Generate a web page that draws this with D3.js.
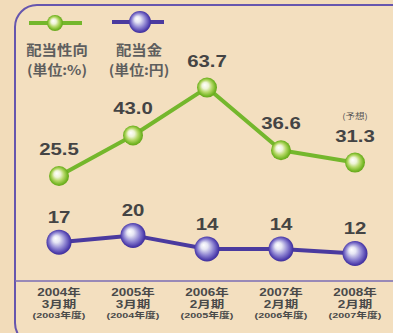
<!DOCTYPE html>
<html>
<head>
<meta charset="utf-8">
<script src="https://cdn.jsdelivr.net/npm/d3@7"></script>
<style>
  html, body { margin: 0; padding: 0; background: #f2dcba; }
  svg { display: block; }
</style>
</head>
<body>
<svg id="chart" width="393" height="333"></svg>
<script>
// Fiscal periods
const categories = ["2004-03", "2005-03", "2006-02", "2007-02", "2008-02"];
const yearLabels = ["2004年", "2005年", "2006年", "2007年", "2008年"];
const periodLabels = ["3月期", "3月期", "2月期", "2月期", "2月期"];
const fiscalLabels = ["(2003年度)", "(2004年度)", "(2005年度)", "(2006年度)", "(2007年度)"];

// Payout ratio (%) and dividend per share (yen)
const payoutRatio = [25.5, 43.0, 63.7, 36.6, 31.3];
const dividend = [17, 20, 14, 14, 12];
const payoutNotes = ["", "", "", "", "(予想)"];

const svg = d3.select("#chart");
const W = 393, H = 333;

const GREEN = "#74b72c";
const PURPLE = "#4a3a9f";
const TEXT = "#444444";

const defs = svg.append("defs");
const gBall = defs.append("radialGradient").attr("id", "gBall")
  .attr("cx", "50%").attr("cy", "50%").attr("r", "55%")
  .attr("fx", "38%").attr("fy", "36%");
gBall.append("stop").attr("offset", "0%").attr("stop-color", "#ffffff");
gBall.append("stop").attr("offset", "30%").attr("stop-color", "#eef3d6");
gBall.append("stop").attr("offset", "55%").attr("stop-color", "#b6d868");
gBall.append("stop").attr("offset", "80%").attr("stop-color", "#78b828");
gBall.append("stop").attr("offset", "100%").attr("stop-color", "#5a9a14");

const pBall = defs.append("radialGradient").attr("id", "pBall")
  .attr("cx", "50%").attr("cy", "50%").attr("r", "55%")
  .attr("fx", "36%").attr("fy", "34%");
pBall.append("stop").attr("offset", "0%").attr("stop-color", "#ffffff");
pBall.append("stop").attr("offset", "25%").attr("stop-color", "#e6e6f4");
pBall.append("stop").attr("offset", "60%").attr("stop-color", "#8a80d0");
pBall.append("stop").attr("offset", "85%").attr("stop-color", "#4c3cab");
pBall.append("stop").attr("offset", "100%").attr("stop-color", "#33248a");

// Panel frame
svg.append("rect").attr("x", 0).attr("y", 0).attr("width", W).attr("height", H)
  .attr("fill", "#f2dcba");
svg.append("rect")
  .attr("x", 15).attr("y", 5).attr("width", 400).attr("height", 340)
  .attr("rx", 22).attr("ry", 22)
  .attr("fill", "#f3dfbf")
  .attr("stroke", "#6656ae").attr("stroke-width", 2);
svg.append("line")
  .attr("x1", 15).attr("x2", W).attr("y1", 281).attr("y2", 281)
  .attr("stroke", "#7a6db4").attr("stroke-width", 1.5);

// Scales
const x = d3.scalePoint().domain(categories).range([59, 355]);
const yRatio = d3.scaleLinear().domain([0, 70]).range([235, 73]);
const yDiv = d3.scaleLinear().domain([0, 20]).range([280.6, 235.4]);

function drawSeries(values, y, color, grad, r, labelGap, fmt) {
  const line = d3.line().x((d, i) => x(categories[i])).y(d => y(d));
  svg.append("path").datum(values)
    .attr("d", line).attr("fill", "none")
    .attr("stroke", color).attr("stroke-width", 4)
    .attr("stroke-linejoin", "round");
  svg.append("g").selectAll("circle").data(values).join("circle")
    .attr("cx", (d, i) => x(categories[i]))
    .attr("cy", d => y(d))
    .attr("r", r)
    .attr("fill", `url(#${grad})`);
  svg.append("g").selectAll("text").data(values).join("text")
    .attr("transform", (d, i) => `translate(${x(categories[i])},${y(d) - labelGap}) scale(1.2,1)`)
    .attr("text-anchor", "middle")
    .attr("font-family", "Liberation Sans, Arial, sans-serif")
    .attr("font-weight", "bold")
    .attr("font-size", 17)
    .attr("fill", TEXT)
    .text(fmt);
}

drawSeries(payoutRatio, yRatio, GREEN, "gBall", 10, 21, d3.format(".1f"));
drawSeries(dividend, yDiv, PURPLE, "pBall", 12.5, 19, d3.format("d"));

// Note above the forecast value
svg.append("g").selectAll("text").data(payoutNotes).join("text")
  .attr("transform", (d, i) => `translate(${x(categories[i])},${yRatio(payoutRatio[i]) - 44}) scale(1.2,1)`)
  .attr("text-anchor", "middle")
  .attr("font-family", "Noto Sans CJK JP, sans-serif")
  .attr("font-size", 8)
  .attr("fill", "#555")
  .text(d => d);

// Category labels: year, period and fiscal year stacked under each point
const labelRows = [
  { labels: yearLabels, y: 296, size: 10 },
  { labels: periodLabels, y: 307.5, size: 10 },
  { labels: fiscalLabels, y: 318, size: 8 }
];
labelRows.forEach(row => {
  svg.append("g").selectAll("text").data(row.labels).join("text")
    .attr("transform", (d, i) => `translate(${x(categories[i])},${row.y}) scale(1.35,1)`)
    .attr("text-anchor", "middle")
    .attr("font-family", "Liberation Sans, Noto Sans CJK JP, sans-serif")
    .attr("font-weight", "bold")
    .attr("font-size", row.size)
    .attr("fill", "#4a4a4a")
    .text(d => d);
});

// Legend
const legend = [
  { name: "配当性向", unit: "(単位:%)", color: GREEN, grad: "gBall", r: 8, x1: 29, x2: 82, cx: 55, cy: 23, tx: 57 },
  { name: "配当金", unit: "(単位:円)", color: PURPLE, grad: "pBall", r: 11, x1: 112, x2: 164, cx: 140, cy: 22, tx: 139 }
];
const lg = svg.append("g").selectAll("g").data(legend).join("g");
lg.append("line")
  .attr("x1", d => d.x1).attr("x2", d => d.x2)
  .attr("y1", d => d.cy).attr("y2", d => d.cy)
  .attr("stroke", d => d.color).attr("stroke-width", 4);
lg.append("circle")
  .attr("cx", d => d.cx).attr("cy", d => d.cy).attr("r", d => d.r)
  .attr("fill", d => `url(#${d.grad})`);
lg.append("text")
  .attr("transform", d => `translate(${d.tx},55) scale(1.1,1)`)
  .attr("text-anchor", "middle")
  .attr("font-family", "Noto Sans CJK JP, sans-serif")
  .attr("font-weight", "bold")
  .attr("font-size", 14)
  .attr("fill", "#5e5e5e")
  .text(d => d.name);
lg.append("text")
  .attr("transform", d => `translate(${d.tx},75) scale(1.1,1)`)
  .attr("text-anchor", "middle")
  .attr("font-family", "Noto Sans CJK JP, sans-serif")
  .attr("font-weight", "bold")
  .attr("font-size", 13.5)
  .attr("fill", "#5e5e5e")
  .text(d => d.unit);
</script>
</body>
</html>
